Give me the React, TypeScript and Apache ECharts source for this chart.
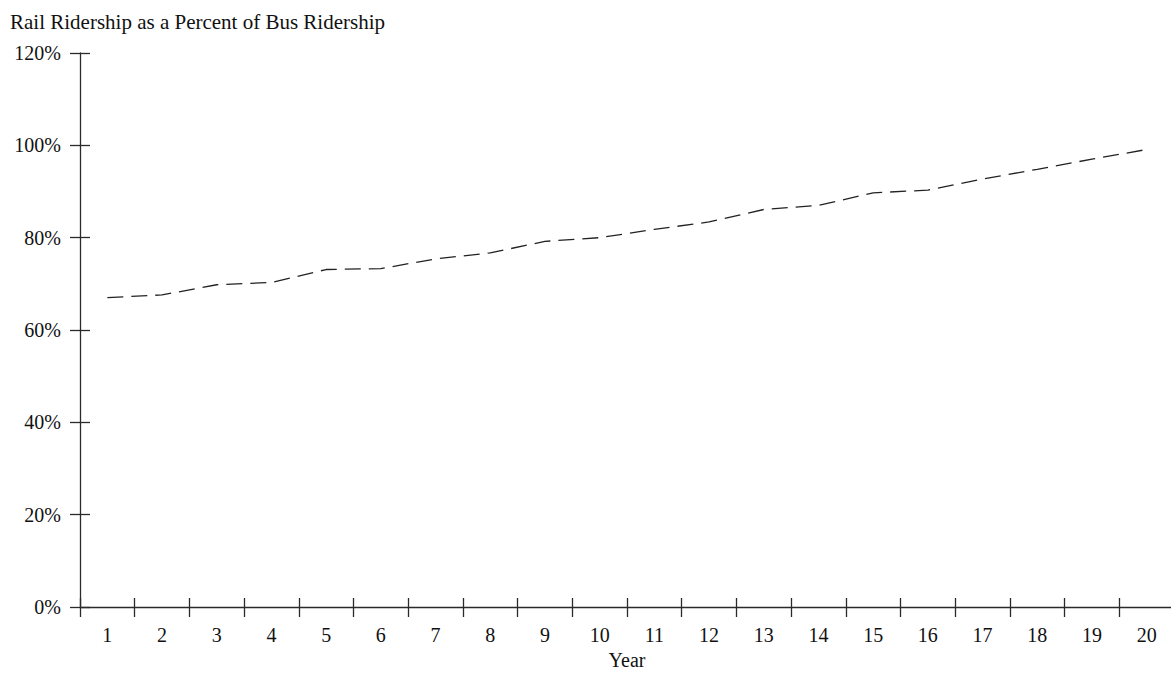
import React, { useEffect, useRef } from "react";
import * as echarts from "echarts";

const years: string[] = ["1","2","3","4","5","6","7","8","9","10","11","12","13","14","15","16","17","18","19","20"];
const railPctOfBus: number[] = [67.0, 67.6, 69.8, 70.3, 73.1, 73.3, 75.4, 76.7, 79.2, 80.0, 81.8, 83.4, 86.1, 87.0, 89.7, 90.3, 92.7, 94.8, 97.0, 99.1];
const yTicks: number[] = [0, 20, 40, 60, 80, 100, 120];

const FONT = "'Liberation Serif', 'Times New Roman', serif";
const AXIS_COLOR = "#2a2a2a";
const TEXT_COLOR = "#111";

export default function App() {
  const ref = useRef<HTMLDivElement>(null);
  useEffect(() => {
    if (!ref.current) return;
    const chart = echarts.init(ref.current, undefined, { renderer: "svg" });
    const yMin = yTicks[0];
    const yMax = yTicks[yTicks.length - 1];
    const yInterval = yTicks[1] - yTicks[0];
    chart.setOption({
      animation: false,
      backgroundColor: "#ffffff",
      textStyle: { fontFamily: FONT, color: TEXT_COLOR },
      title: {
        text: "Rail Ridership as a Percent of Bus Ridership",
        left: 10,
        top: 11,
        padding: 0,
        textStyle: { fontFamily: FONT, fontSize: 21, fontWeight: "normal", color: TEXT_COLOR },
      },
      grid: { left: 80, top: 53, width: 1094, height: 554, outerBoundsMode: "none", containLabel: false },
      xAxis: [
        {
          type: "category",
          data: years,
          boundaryGap: true,
          name: "Year",
          nameLocation: "middle",
          nameGap: 34,
          nameTextStyle: { fontFamily: FONT, fontSize: 20, color: TEXT_COLOR },
          axisLine: { show: true, lineStyle: { color: AXIS_COLOR, width: 1.3 } },
          axisTick: { show: true, inside: false, length: 10, lineStyle: { color: AXIS_COLOR, width: 1.3 } },
          axisLabel: { fontFamily: FONT, fontSize: 20, color: TEXT_COLOR, margin: 18, interval: 0 },
          splitLine: { show: false },
        },
        {
          type: "category",
          data: years,
          boundaryGap: true,
          position: "bottom",
          axisLine: { show: false },
          axisTick: { show: true, inside: true, length: 9, lineStyle: { color: AXIS_COLOR, width: 1.3 } },
          axisLabel: { show: false },
          splitLine: { show: false },
        },
      ],
      yAxis: [
        {
          type: "value",
          min: yMin,
          max: yMax,
          interval: yInterval,
          axisLine: { show: true, lineStyle: { color: AXIS_COLOR, width: 1.3 } },
          axisTick: { show: true, inside: false, length: 10, lineStyle: { color: AXIS_COLOR, width: 1.3 } },
          axisLabel: { fontFamily: FONT, fontSize: 20, color: TEXT_COLOR, margin: 19, formatter: "{value}%" },
          splitLine: { show: false },
        },
        {
          type: "value",
          min: yMin,
          max: yMax,
          interval: yInterval,
          position: "left",
          axisLine: { show: false },
          axisTick: { show: true, inside: true, length: 10, lineStyle: { color: AXIS_COLOR, width: 1.3 } },
          axisLabel: { show: false },
          splitLine: { show: false },
        },
      ],
      series: [
        {
          type: "line",
          xAxisIndex: 0,
          yAxisIndex: 0,
          data: railPctOfBus,
          showSymbol: false,
          symbol: "none",
          smooth: false,
          lineStyle: { color: "#222", width: 1.3, type: [16, 8] },
        },
      ],
    });
    return () => chart.dispose();
  }, []);
  return (
    <div
      ref={ref}
      style={{ position: "fixed", left: 0, top: 0, width: 1171, height: 675, background: "#fff" }}
    />
  );
}
